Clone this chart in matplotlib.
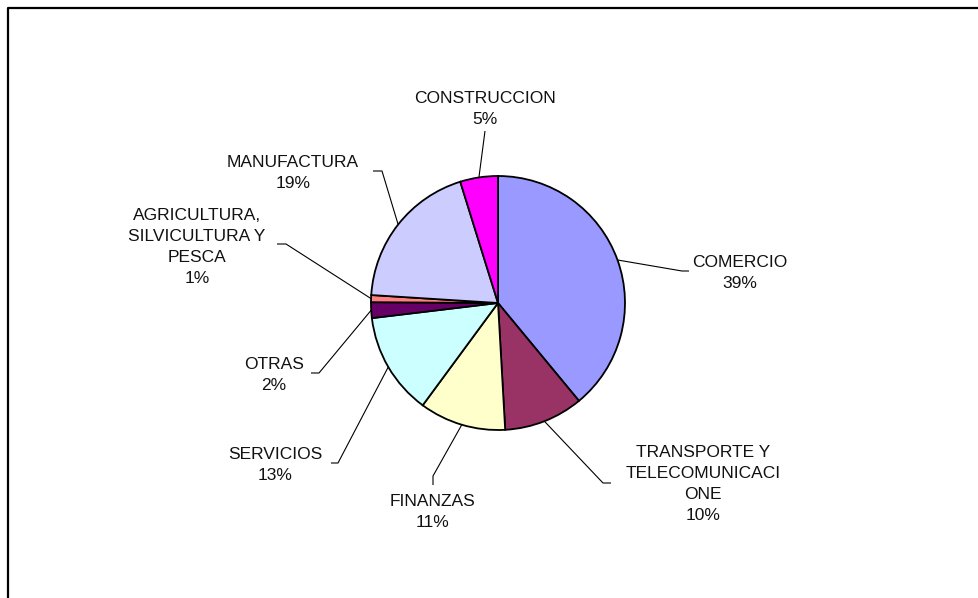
import matplotlib
matplotlib.use("Agg")
import numpy as np
import matplotlib.pyplot as plt
from matplotlib.lines import Line2D

# Sectors, clockwise from 12 o'clock
sectors = ["COMERCIO", "TRANSPORTE Y\nTELECOMUNICACI\nONE", "FINANZAS", "SERVICIOS",
           "OTRAS", "AGRICULTURA,\nSILVICULTURA Y\nPESCA", "MANUFACTURA", "CONSTRUCCION"]
shares = [39.0, 10.1, 11.0, 13.0, 2.0, 0.9, 19.2, 4.8]
pct_labels = ["39%", "10%", "11%", "13%", "2%", "1%", "19%", "5%"]
colors = ["#9999FF", "#993366", "#FFFFCC", "#CCFFFF", "#660066", "#FF8080", "#CCCCFF", "#FF00FF"]

W, H = 979, 598
CX, CY, R = 498, 303, 127

# label layout in pixels (y down): text centre, elbow of leader, end of short tick
text_pos = [(740, 273), (703, 484), (433, 512), (275, 465), (274, 375), (197, 247), (293, 173), (485, 109)]
elbow = [(682, 271), (603, 483), (433, 476), (338, 463), (319, 373), (286, 244), (382, 171), (485, 131)]
tick_end = [(689, 271), (611, 483), (433, 485), (331, 463), (311, 373), (277, 244), (373, 171), (485, 131)]

fig = plt.figure(figsize=(W / 100, H / 100), dpi=100)
ax = fig.add_axes([0, 0, 1, 1])

wedges, _ = ax.pie(shares, colors=colors, startangle=90, counterclock=False,
                   center=(CX, H - CY), radius=R,
                   wedgeprops=dict(edgecolor="black", linewidth=1.3))
ax.set_xlim(0, W)
ax.set_ylim(0, H)
ax.set_aspect("equal")
ax.axis("off")

for i, w in enumerate(wedges):
    mid = np.deg2rad((w.theta1 + w.theta2) / 2)
    px = CX + R * np.cos(mid)
    py = (H - CY) + R * np.sin(mid)
    ex, ey = elbow[i]
    tx, ty = tick_end[i]
    ax.plot([px, ex, tx], [py, H - ey, H - ty], color="black", lw=0.8,
            solid_capstyle="butt", zorder=0)
    x, y = text_pos[i]
    ax.text(x, H - y, sectors[i] + "\n" + pct_labels[i], ha="center", va="center",
            fontsize=12.5, family="Liberation Sans", linespacing=1.5, color="#111111")

# chart area frame (left and top edges visible)
fig.add_artist(Line2D([8 / W, 8 / W, 1], [0, 1 - 8 / H, 1 - 8 / H],
                      transform=fig.transFigure, color="black", lw=1.6))

fig.savefig("out.png", dpi=100)
